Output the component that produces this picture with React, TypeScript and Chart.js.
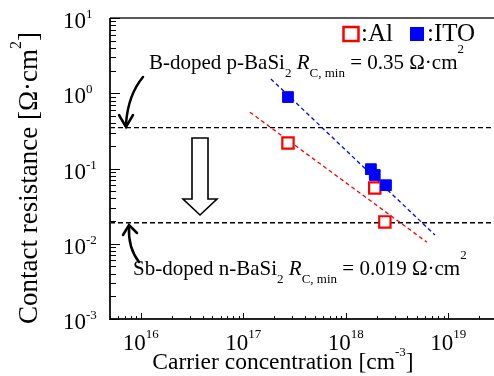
import React, { useEffect, useRef } from "react";
import { Chart, registerables } from "chart.js";

Chart.register(...registerables);

const alX = [2.73e17, 1.92e18, 2.41e18];
const alY = [0.218, 0.055, 0.0195];
const itoX = [2.73e17, 1.76e18, 1.92e18, 2.47e18];
const itoY = [0.89, 0.098, 0.082, 0.06];
const itoFitX = [1.86e17, 7.41e18];
const itoFitY = [1.55, 0.0131];
const alFitX = [1.16e17, 6.19e18];
const alFitY = [0.56, 0.0105];
const pLevel = 0.35;
const nLevel = 0.019;
const xRange = [5e15, 2.8e19];
const yRange = [1e-3, 1e1];
const xTickExps = [16, 17, 18, 19];
const yTickExps = [-3, -2, -1, 0, 1];

const SERIF = "'Liberation Serif', 'Times New Roman', serif";

type Seg = { t: string; size: number; dy?: number; italic?: boolean };

function segFont(s: Seg) {
  return `${s.italic ? "italic " : ""}${s.size}px ${SERIF}`;
}

function richWidth(ctx: CanvasRenderingContext2D, segs: Seg[]) {
  let w = 0;
  for (const s of segs) {
    ctx.font = segFont(s);
    w += ctx.measureText(s.t).width;
  }
  return w;
}

function drawRich(ctx: CanvasRenderingContext2D, segs: Seg[], x: number, y: number, align: "left" | "center" = "left") {
  let cx = x;
  if (align === "center") cx = x - richWidth(ctx, segs) / 2;
  ctx.textAlign = "left";
  ctx.textBaseline = "alphabetic";
  for (const s of segs) {
    ctx.font = segFont(s);
    ctx.fillText(s.t, cx, y + (s.dy || 0));
    cx += ctx.measureText(s.t).width;
  }
}

const decor = {
  id: "decor",
  afterDraw(chart: any) {
    const ctx: CanvasRenderingContext2D = chart.ctx;
    const xs = chart.scales.x;
    const ys = chart.scales.y;
    const a = chart.chartArea;
    ctx.save();
    ctx.fillStyle = "#000";
    ctx.strokeStyle = "#222";
    // frame
    ctx.lineWidth = 2;
    ctx.beginPath();
    ctx.moveTo(a.left, a.top);
    ctx.lineTo(a.left, a.bottom);
    ctx.lineTo(a.right, a.bottom);
    ctx.stroke();
    ctx.lineWidth = 1.5;
    ctx.beginPath();
    ctx.moveTo(a.left, a.top);
    ctx.lineTo(a.right, a.top);
    ctx.stroke();
    // x ticks
    ctx.lineWidth = 1;
    ctx.strokeStyle = "#000";
    for (let d = 15; d <= 19; d++) {
      for (let m = 1; m <= 9; m++) {
        const v = m * Math.pow(10, d);
        if (v < xRange[0] || v > xRange[1]) continue;
        const px = Math.round(xs.getPixelForValue(v)) + 0.5;
        const len = m === 1 ? 6 : 3;
        ctx.beginPath();
        ctx.moveTo(px, a.bottom);
        ctx.lineTo(px, a.bottom - len);
        ctx.stroke();
      }
    }
    // y ticks
    for (let d = -3; d <= 1; d++) {
      for (let m = 1; m <= 9; m++) {
        const v = m * Math.pow(10, d);
        if (v < yRange[0] || v > yRange[1] * 1.0001) continue;
        const py = Math.round(ys.getPixelForValue(v)) + 0.5;
        const len = m === 1 ? 10 : 6;
        ctx.beginPath();
        ctx.moveTo(a.left, py);
        ctx.lineTo(a.left + len, py);
        ctx.stroke();
      }
    }
    // x tick labels
    for (const e of xTickExps) {
      const px = xs.getPixelForValue(Math.pow(10, e));
      drawRich(ctx, [{ t: "10", size: 23 }, { t: String(e), size: 13, dy: -12 }], px, 350, "center");
    }
    // y tick labels
    for (const e of yTickExps) {
      const py = ys.getPixelForValue(Math.pow(10, e));
      drawRich(ctx, [{ t: "10", size: 23 }, { t: String(e), size: 13, dy: -10 }], 63, py + 10);
    }
    // axis titles
    drawRich(ctx, [
      { t: "Carrier concentration [cm", size: 23.5 },
      { t: "-3", size: 13, dy: -13 },
      { t: "]", size: 23.5 },
    ], 283, 369, "center");
    ctx.save();
    ctx.translate(37, 178);
    ctx.rotate(-Math.PI / 2);
    drawRich(ctx, [
      { t: "Contact resistance [\u03A9\u00B7cm", size: 27 },
      { t: "2", size: 16, dy: -16 },
      { t: "]", size: 27 },
    ], 0, 0, "center");
    ctx.restore();
    // annotations
    drawRich(ctx, [
      { t: "B-doped p-BaSi", size: 21 },
      { t: "2", size: 13, dy: 8 },
      { t: " ", size: 21 },
      { t: "R", size: 21, italic: true },
      { t: "C, min", size: 13, dy: 8 },
      { t: " = 0.35 \u03A9\u00B7cm", size: 21 },
      { t: "2", size: 13, dy: -16 },
    ], 149, 69);
    drawRich(ctx, [
      { t: "Sb-doped n-BaSi", size: 21 },
      { t: "2", size: 13, dy: 8 },
      { t: " ", size: 21 },
      { t: "R", size: 21, italic: true },
      { t: "C, min", size: 13, dy: 8 },
      { t: " = 0.019 \u03A9\u00B7cm", size: 21 },
      { t: "2", size: 13, dy: -16 },
    ], 133, 275);
    // curved arrows
    ctx.strokeStyle = "#000";
    ctx.lineWidth = 2.5;
    ctx.lineCap = "round";
    ctx.beginPath();
    ctx.moveTo(143, 77);
    ctx.quadraticCurveTo(128, 95, 126, 124);
    ctx.stroke();
    ctx.beginPath();
    ctx.moveTo(119, 115);
    ctx.lineTo(126, 127);
    ctx.lineTo(133, 115);
    ctx.stroke();
    ctx.beginPath();
    ctx.moveTo(139, 262);
    ctx.quadraticCurveTo(128, 248, 129, 227);
    ctx.stroke();
    ctx.beginPath();
    ctx.moveTo(123, 235);
    ctx.lineTo(129, 225);
    ctx.lineTo(137, 233);
    ctx.stroke();
    // hollow down arrow
    ctx.lineWidth = 1.6;
    ctx.lineJoin = "miter";
    ctx.fillStyle = "#fff";
    ctx.beginPath();
    ctx.moveTo(192, 138);
    ctx.lineTo(208, 138);
    ctx.lineTo(208, 199);
    ctx.lineTo(217, 199);
    ctx.lineTo(200, 215);
    ctx.lineTo(183, 199);
    ctx.lineTo(192, 199);
    ctx.closePath();
    ctx.fill();
    ctx.stroke();
    // legend
    ctx.strokeStyle = "#ff0000";
    ctx.lineWidth = 2.5;
    ctx.strokeRect(343.5, 27, 15, 14);
    ctx.fillStyle = "#0000ff";
    ctx.fillRect(410, 27, 14, 14);
    ctx.fillStyle = "#000";
    ctx.font = `25px ${SERIF}`;
    ctx.textAlign = "left";
    ctx.fillText(":Al", 361, 41);
    ctx.fillText(":ITO", 427, 41);
    ctx.restore();
  },
};

export default function App() {
  const ref = useRef<HTMLCanvasElement>(null);
  useEffect(() => {
    document.body.style.margin = "0";
    const pts = (xa: number[], ya: number[]) => xa.map((x, i) => ({ x, y: ya[i] }));
    const chart = new Chart(ref.current!, {
      type: "scatter",
      data: {
        datasets: [
          {
            label: "ITO",
            data: pts(itoX, itoY),
            pointStyle: "rect",
            pointRadius: 7.6,
            backgroundColor: "#0000ff",
            borderColor: "#0000ff",
            borderWidth: 1,
          },
          {
            label: "Al",
            data: pts(alX, alY),
            pointStyle: "rect",
            pointRadius: 8,
            backgroundColor: "#ffffff",
            borderColor: "#ff0000",
            borderWidth: 2.2,
          },
          {
            label: "ITO fit",
            data: pts(itoFitX, itoFitY),
            showLine: true,
            pointRadius: 0,
            borderColor: "#0000ff",
            borderWidth: 1.3,
            borderDash: [4, 3],
          },
          {
            label: "Al fit",
            data: pts(alFitX, alFitY),
            showLine: true,
            pointRadius: 0,
            borderColor: "#ff0000",
            borderWidth: 1.3,
            borderDash: [4, 3],
          },
          {
            label: "p",
            data: pts(xRange, [pLevel, pLevel]),
            showLine: true,
            pointRadius: 0,
            borderColor: "#000",
            borderWidth: 1.3,
            borderDash: [5, 3],
          },
          {
            label: "n",
            data: pts(xRange, [nLevel, nLevel]),
            showLine: true,
            pointRadius: 0,
            borderColor: "#000",
            borderWidth: 1.3,
            borderDash: [5, 3],
          },
        ],
      },
      options: {
        animation: false,
        responsive: false,
        layout: { autoPadding: false, padding: { left: 110, top: 18, right: 0, bottom: 57 } },
        plugins: { legend: { display: false }, tooltip: { enabled: false } },
        scales: {
          x: { type: "logarithmic", min: xRange[0], max: xRange[1], display: false },
          y: { type: "logarithmic", min: yRange[0], max: yRange[1], display: false },
        },
      },
      plugins: [decor],
    });
    return () => chart.destroy();
  }, []);
  return (
    <div style={{ width: 494, height: 376, background: "#fff" }}>
      <canvas ref={ref} width={494} height={376} />
    </div>
  );
}
